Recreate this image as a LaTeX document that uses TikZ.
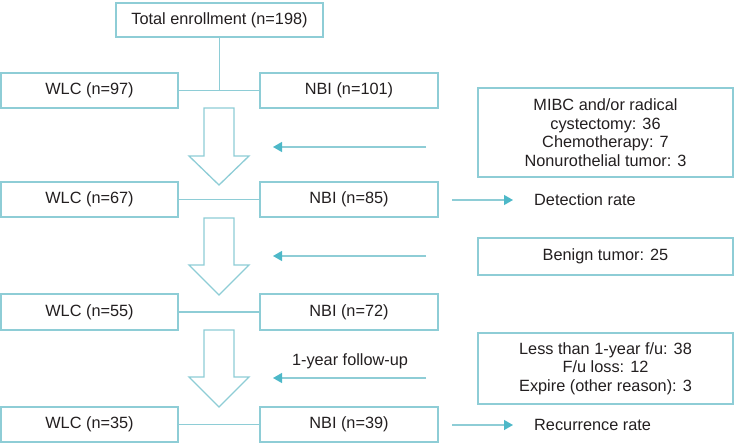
\documentclass[tikz,border=0pt]{standalone}
\usepackage{fontspec}
\setmainfont{Liberation Sans}
\usetikzlibrary{arrows.meta}
\definecolor{boxc}{HTML}{8ECDD6}
\definecolor{tipc}{HTML}{4DB8C8}
\definecolor{txtc}{HTML}{231F20}
\begin{document}
\begin{tikzpicture}[x=1pt,y=-1pt,
  font=\fontsize{16.3}{18.6}\selectfont, text=txtc,
  box/.style={draw=boxc, line width=1.3pt, fill=white, inner sep=0pt, align=center},
  link/.style={draw=boxc, line width=1.3pt},
  sidearr/.style={draw=boxc, line width=1.3pt, -{Triangle[length=9pt,width=10pt,color=tipc]}},
  hollow/.style={draw=boxc, line width=1.3pt, fill=white, line join=miter},
  lbl/.style={inner sep=0pt, anchor=west}]
\useasboundingbox (0,0) rectangle (735,444);

% main column boxes
\node[box, minimum width=207pt, minimum height=34pt] (tot) at (219.5,20) {Total enrollment (n=198)};
\node[box, minimum width=177pt, minimum height=35pt] (w1) at (89.5,90.5) {WLC (n=97)};
\node[box, minimum width=178pt, minimum height=35pt] (n1) at (349,90.5) {NBI (n=101)};
\node[box, minimum width=177pt, minimum height=35pt] (w2) at (89.5,199.5) {WLC (n=67)};
\node[box, minimum width=178pt, minimum height=35pt] (n2) at (349,199.5) {NBI (n=85)};
\node[box, minimum width=177pt, minimum height=36pt] (w3) at (89.5,312) {WLC (n=55)};
\node[box, minimum width=178pt, minimum height=36pt] (n3) at (349,312) {NBI (n=72)};
\node[box, minimum width=177pt, minimum height=35pt] (w4) at (89.5,424.5) {WLC (n=35)};
\node[box, minimum width=178pt, minimum height=35pt] (n4) at (349,424.5) {NBI (n=39)};

% exclusion boxes
\node[box, minimum width=255pt, minimum height=89pt] (ex1) at (605.5,132.5)
  {MIBC and/or radical\\cystectomy: 36\\Chemotherapy: 7\\Nonurothelial tumor: 3};
\node[box, minimum width=255pt, minimum height=37pt] (ex2) at (605.5,256.5) {Benign tumor: 25};
\node[box, minimum width=255pt, minimum height=71pt] (ex3) at (605.5,368.5)
  {Less than 1-year f/u: 38\\F/u loss: 12\\Expire (other reason): 3};

% connectors between groups
\draw[link] (tot.south) -- (tot.south |- w1.east);
\draw[link] (w1.east) -- (n1.west);
\draw[link] (w2.east) -- (n2.west);
\draw[link] (w3.east) -- (n3.west);
\draw[link] (w4.east) -- (n4.west);

% hollow down arrows
\foreach \t/\h/\b in {108/156/185, 218/265/295, 330/377/407}{
  \draw[hollow] (204,\t) -- (234,\t) -- (234,\h) -- (249,\h) -- (219,\b) -- (189,\h) -- (204,\h) -- cycle;
}

% exclusion arrows
\coordinate (a1s) at (426,147);
\coordinate (a1e) at (273,147);
\coordinate (a2s) at (426,256);
\coordinate (a2e) at (273,256);
\coordinate (a3s) at (426,378);
\coordinate (a3e) at (273,378);
\draw[sidearr] (a1s) -- (a1e);
\draw[sidearr] (a2s) -- (a2e);
\draw[sidearr] (a3s) -- (a3e);
\node[inner sep=0pt] (fu) at (350,361) {1-year follow-up};

% outcome arrows
\node[lbl] (det) at (534,200) {Detection rate};
\node[lbl] (rec) at (534,425) {Recurrence rate};
\coordinate (d1) at (452,200);
\coordinate (r1) at (452,425);
\draw[sidearr] (d1) -- ([xshift=-21pt]det.west);
\draw[sidearr] (r1) -- ([xshift=-21pt]rec.west);
\end{tikzpicture}
\end{document}
